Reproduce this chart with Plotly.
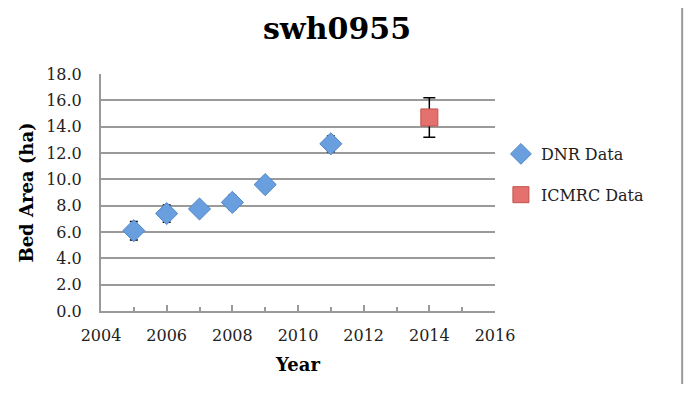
import plotly.graph_objects as go

# DNR survey data
dnr_years = [2005, 2006, 2007, 2008, 2009, 2011]
dnr_area = [6.1, 7.4, 7.75, 8.25, 9.6, 12.7]
dnr_err = [0.7, 0.65, 0.3, 0.55, 0.45, 0.6]

# ICMRC data
icmrc_years = [2014]
icmrc_area = [14.7]
icmrc_err = [1.5]

font_serif = "DejaVu Serif, Liberation Serif, serif"

fig = go.Figure()

fig.add_trace(go.Scatter(x=dnr_years, y=dnr_area, mode='markers', name='DNR Data',
                         legendgroup='dnr',
                         error_y=dict(type='data', array=dnr_err, color='black',
                                      thickness=1.5, width=4),
                         marker=dict(symbol='diamond', size=17, color='#6a9fdf',
                                     line=dict(color='#4f86c6', width=1))))

fig.add_trace(go.Scatter(x=icmrc_years, y=icmrc_area, mode='markers', name='ICMRC Data',
                         legendgroup='icmrc',
                         error_y=dict(type='data', array=icmrc_err, color='black',
                                      thickness=1.5, width=6),
                         marker=dict(symbol='square', size=17, color='#e4716d',
                                     line=dict(color='#c0504d', width=1))))

# thin frame line near the right edge of the picture
fig.add_shape(type='line', xref='paper', yref='paper', x0=1.475, x1=1.475, y0=-0.35, y1=1.3,
              line=dict(color='#9a9a9a', width=2), layer='above')

# page body adds 8px around the figure, so keep it inside the window
fig.update_layout(
    width=691, height=376,
    margin=dict(l=93, r=204, t=66, b=73),
    paper_bgcolor='white', plot_bgcolor='white',
    font=dict(family=font_serif, size=15, color='#222'),
    title=dict(text='<b>swh0955</b>', x=329/691, xanchor='center', y=1 - 20/376, yanchor='middle',
               font=dict(size=30, color='black')),
    showlegend=True,
    legend=dict(x=1.015, y=0.576, xanchor='left', yanchor='middle', tracegroupgap=17,
                font=dict(size=16, color='#222'), bgcolor='rgba(0,0,0,0)'),
    xaxis=dict(range=[2004, 2016], tickmode='linear', tick0=2004, dtick=2,
               showgrid=False, zeroline=False,
               showline=True, linecolor='#9a9a9a', linewidth=2,
               ticks='inside', ticklen=6, tickcolor='#9a9a9a', tickwidth=1.5,
               minor=dict(dtick=1, ticks='inside', ticklen=4, tickcolor='#9a9a9a', showgrid=False),
               tickfont=dict(size=16, color='#222'), ticklabelstandoff=9,
               title=dict(text='<b>Year</b>', font=dict(size=18, color='black'), standoff=14)),
    yaxis=dict(range=[0, 18], tickmode='linear', tick0=0, dtick=2, tickformat='.1f',
               showgrid=True, gridcolor='#9a9a9a', gridwidth=1.5, zeroline=False,
               showline=True, linecolor='#9a9a9a', linewidth=2, ticks='',
               tickfont=dict(size=16, color='#222'), ticklabelstandoff=14,
               title=dict(text='<b>Bed Area (ha)</b>', font=dict(size=18, color='black'), standoff=8)),
)

fig.write_html("out.html")
